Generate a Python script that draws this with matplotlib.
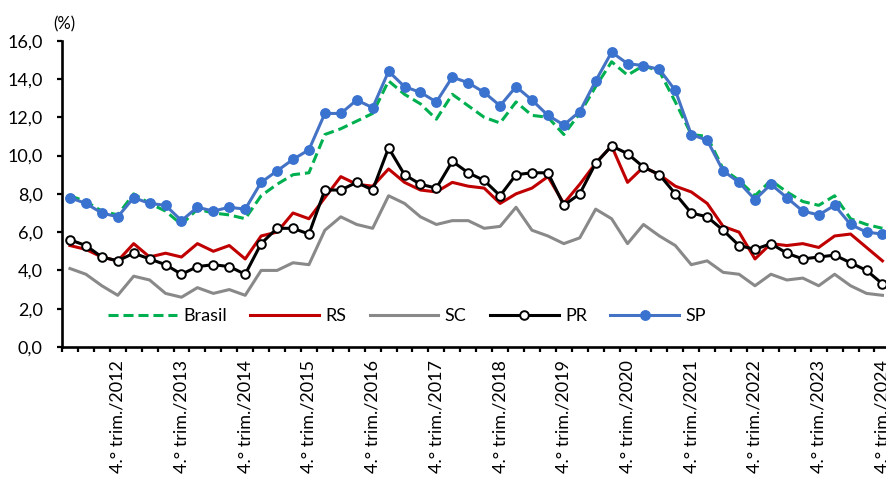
import matplotlib
matplotlib.use("Agg")
import matplotlib.pyplot as plt
from matplotlib.ticker import FixedLocator

plt.rcParams["font.family"] = ["Lato", "DejaVu Sans"]

# Quarterly series, 1st quarter 2012 .. 4th quarter 2024 (%)
years = list(range(2012, 2025))
quarters = [f"{q}.° trim./{y}" for y in years for q in (1, 2, 3, 4)]

brasil = [7.9, 7.6, 7.1, 6.9, 8.0, 7.5, 7.1, 6.4, 7.2, 7.0, 6.9, 6.7, 7.9,
          8.5, 9.0, 9.1, 11.1, 11.4, 11.8, 12.2, 13.9, 13.2, 12.7, 11.9, 13.2, 12.6,
          12.0, 11.7, 12.8, 12.1, 12.0, 11.1, 12.2, 13.6, 14.9, 14.2, 14.7, 14.4, 12.8,
          11.1, 11.0, 9.3, 8.7, 7.9, 8.7, 8.1, 7.6, 7.4, 7.9, 6.7, 6.4, 6.2]
rs = [5.3, 5.1, 4.7, 4.5, 5.4, 4.7, 4.9, 4.7, 5.4, 5.0, 5.3, 4.6, 5.8,
      6.0, 7.0, 6.7, 7.8, 8.9, 8.5, 8.4, 9.3, 8.6, 8.2, 8.1, 8.6, 8.4,
      8.3, 7.5, 8.0, 8.3, 8.9, 7.5, 8.5, 9.6, 10.5, 8.6, 9.4, 9.0, 8.4,
      8.1, 7.5, 6.3, 6.0, 4.6, 5.4, 5.3, 5.4, 5.2, 5.8, 5.9, 5.2, 4.5]
sc = [4.1, 3.8, 3.2, 2.7, 3.7, 3.5, 2.8, 2.6, 3.1, 2.8, 3.0, 2.7, 4.0,
      4.0, 4.4, 4.3, 6.1, 6.8, 6.4, 6.2, 7.9, 7.5, 6.8, 6.4, 6.6, 6.6,
      6.2, 6.3, 7.3, 6.1, 5.8, 5.4, 5.7, 7.2, 6.7, 5.4, 6.4, 5.8, 5.3,
      4.3, 4.5, 3.9, 3.8, 3.2, 3.8, 3.5, 3.6, 3.2, 3.8, 3.2, 2.8, 2.7]
pr = [5.6, 5.3, 4.7, 4.5, 4.9, 4.6, 4.3, 3.8, 4.2, 4.3, 4.2, 3.8, 5.4,
      6.2, 6.2, 5.9, 8.2, 8.2, 8.6, 8.2, 10.4, 9.0, 8.5, 8.3, 9.7, 9.1,
      8.7, 7.9, 9.0, 9.1, 9.1, 7.4, 8.0, 9.6, 10.5, 10.1, 9.4, 9.0, 8.0,
      7.0, 6.8, 6.1, 5.3, 5.1, 5.4, 4.9, 4.6, 4.7, 4.8, 4.4, 4.0, 3.3]
sp = [7.8, 7.5, 7.0, 6.8, 7.8, 7.5, 7.4, 6.6, 7.3, 7.1, 7.3, 7.2, 8.6,
      9.2, 9.8, 10.3, 12.2, 12.2, 12.9, 12.5, 14.4, 13.6, 13.3, 12.8, 14.1, 13.8,
      13.3, 12.6, 13.6, 12.9, 12.1, 11.6, 12.3, 13.9, 15.4, 14.8, 14.7, 14.5, 13.4,
      11.1, 10.8, 9.2, 8.6, 7.7, 8.5, 7.8, 7.1, 6.9, 7.4, 6.4, 6.0, 5.9]

y_ticks = [0, 2, 4, 6, 8, 10, 12, 14, 16]
y_tick_labels = ["0,0", "2,0", "4,0", "6,0", "8,0", "10,0", "12,0", "14,0", "16,0"]

W, H = 886, 479
fig = plt.figure(figsize=(W / 100, H / 100), dpi=100)
ax = fig.add_axes([62 / W, (H - 347) / H, 828.4 / W, (347 - 40.7) / H])

x = list(range(len(quarters)))
lw = 2.2
ax.plot(x, brasil, color="#00B050", lw=lw, linestyle=(0, (3.3, 1.6)), label="Brasil")
ax.plot(x, rs, color="#C00000", lw=lw, label="RS")
ax.plot(x, sc, color="#898989", lw=lw, label="SC")
ax.plot(x, pr, color="black", lw=lw, marker="o", ms=6.2, mfc="white",
        mec="black", mew=1.4, label="PR")
ax.plot(x, sp, color="#4472C4", lw=lw, marker="o", ms=6.8, mfc="#3A72D0",
        mec="#3A72D0", label="SP")

ax.set_xlim(-0.5, len(quarters) - 0.5)
ax.set_ylim(0, 16)

for s in ("top", "right"):
    ax.spines[s].set_visible(False)
for s in ("left", "bottom"):
    ax.spines[s].set_linewidth(1.9)

ax.set_yticks(y_ticks)
ax.set_yticklabels(y_tick_labels)
ax.tick_params(axis="y", direction="out", length=3.8, width=1.6, pad=10,
               labelsize=13, colors="black")

label_pos = [i for i in x if i % 4 == 3]
ax.set_xticks(label_pos)
ax.set_xticklabels([quarters[i] for i in label_pos], rotation=90)
ax.xaxis.set_minor_locator(FixedLocator([i - 0.5 for i in range(len(quarters) + 1)]))
ax.tick_params(axis="x", which="major", length=0, pad=9.5, labelsize=13)
ax.tick_params(axis="x", which="minor", direction="out", length=3.5, width=1.6)

fig.text(64 / W, 1 - 24.5 / H, "(%)", ha="center", va="center", fontsize=12)

ax.legend(loc="center", bbox_to_anchor=(0.4165, 0.101), ncol=5, frameon=False,
          fontsize=13, handlelength=3.8, handletextpad=0.35, columnspacing=1.3,
          numpoints=1, borderpad=0)

fig.savefig("out.png", dpi=100)
